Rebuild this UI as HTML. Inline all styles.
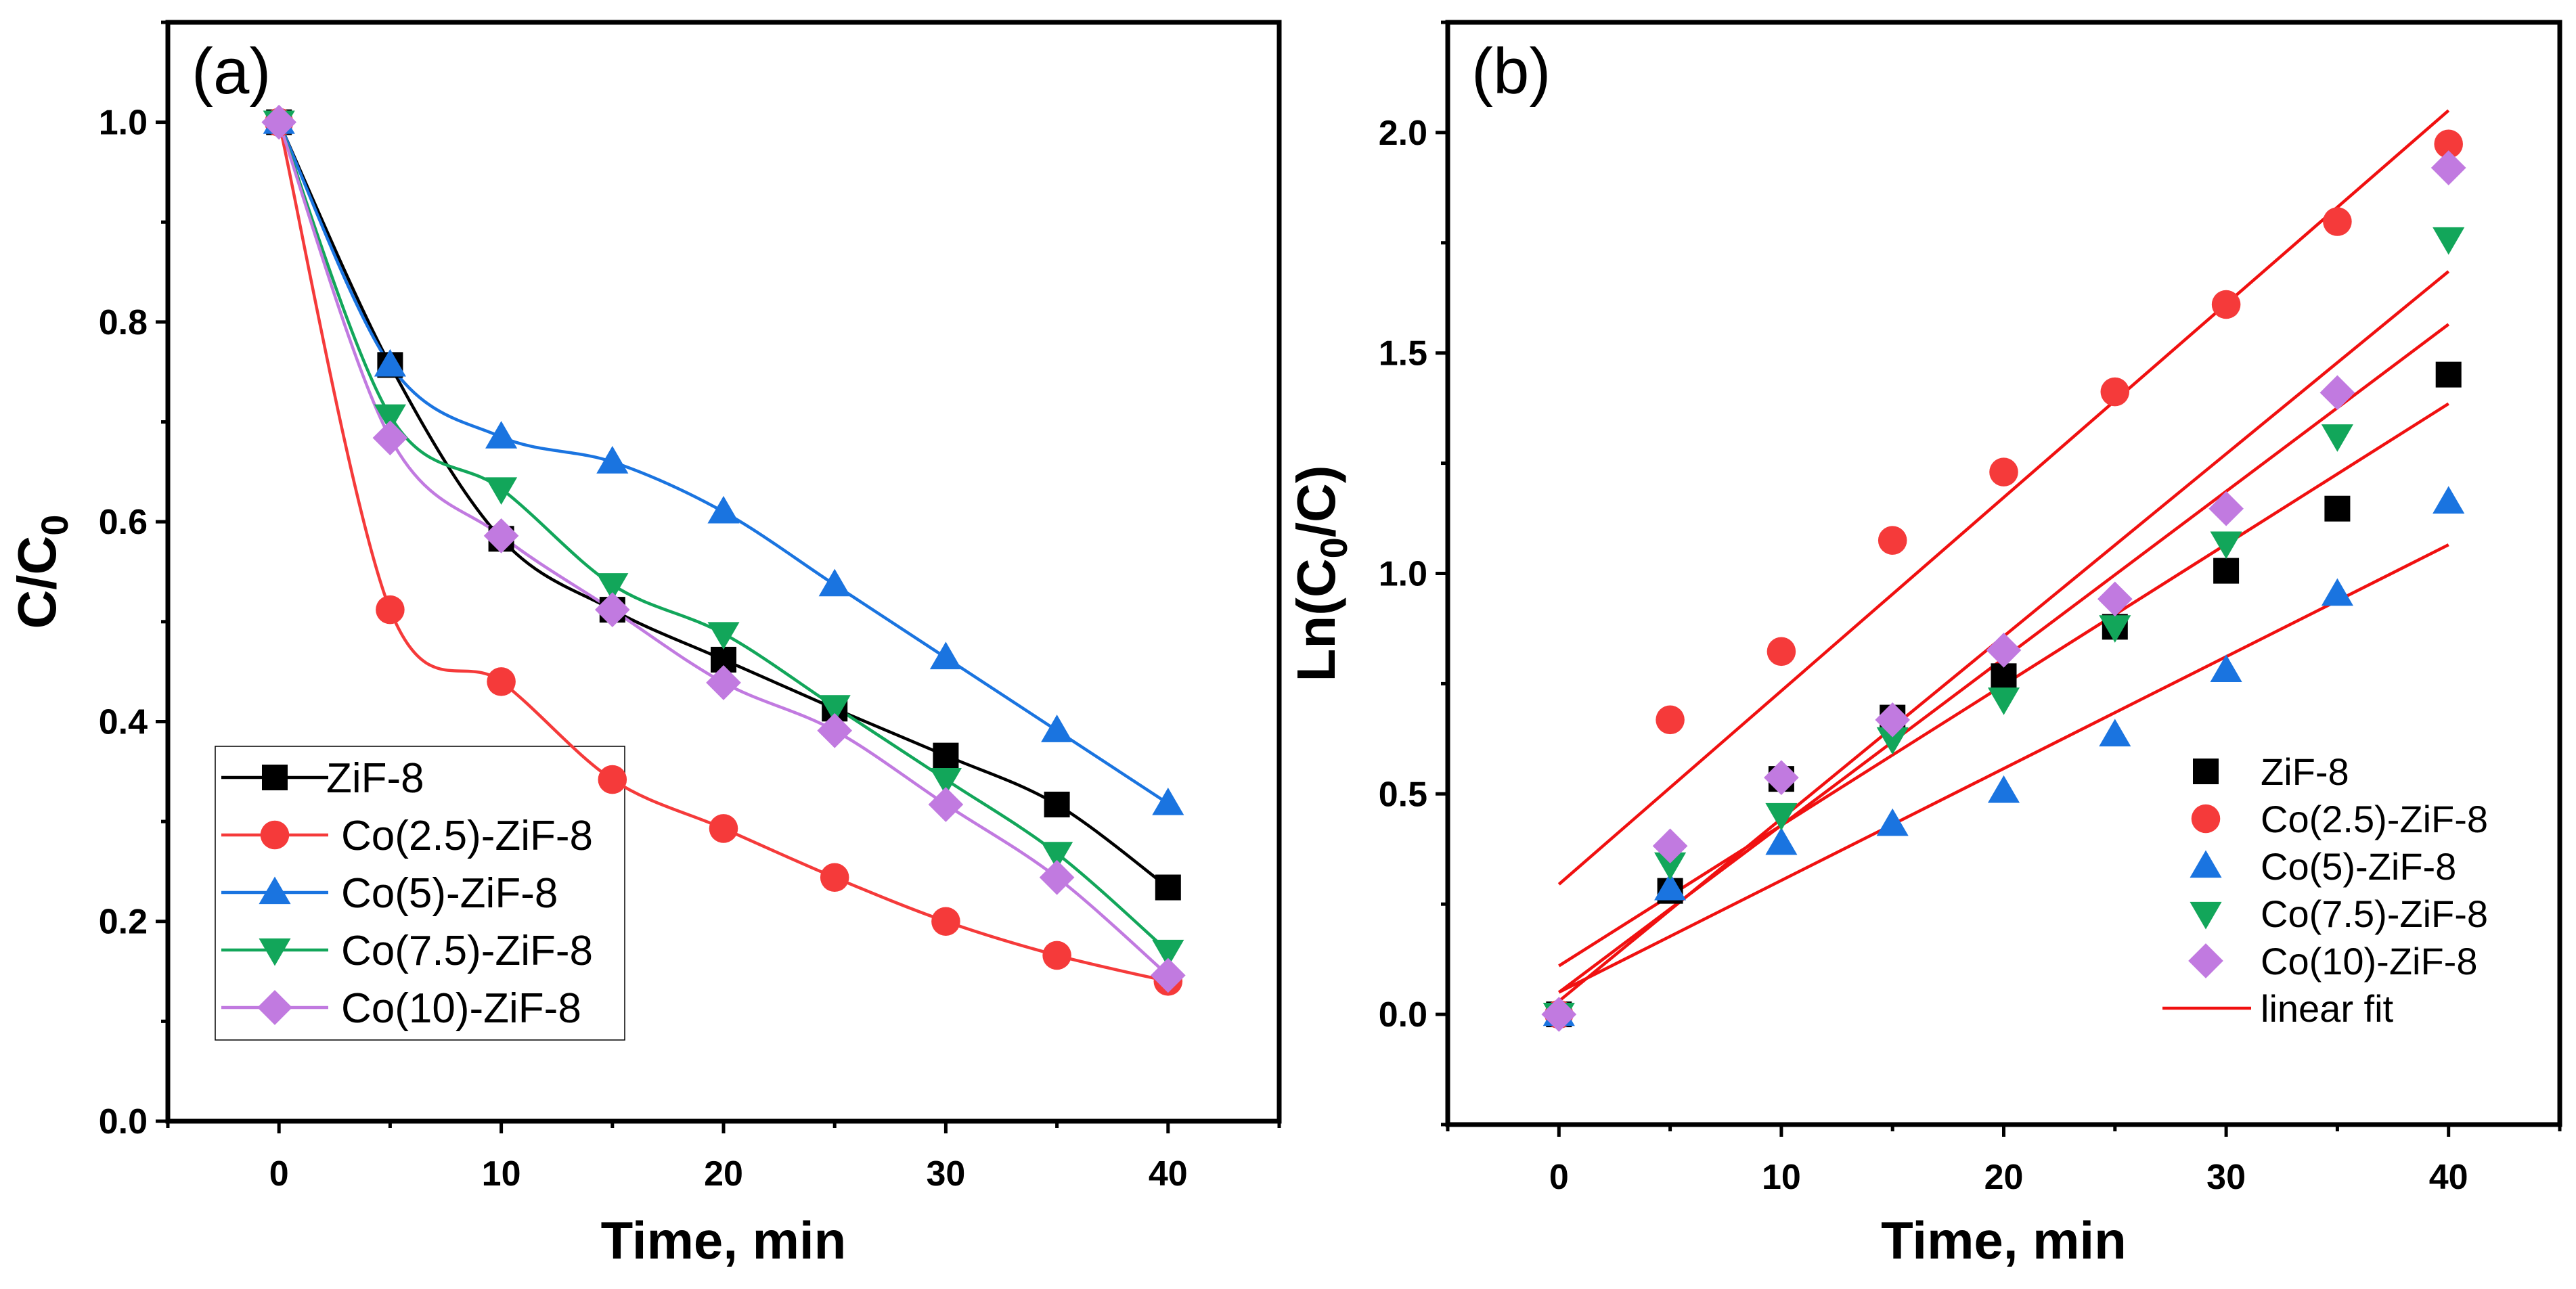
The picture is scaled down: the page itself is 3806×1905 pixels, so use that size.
<!DOCTYPE html>
<html><head><meta charset="utf-8"><style>
html,body{margin:0;padding:0;background:#fff}
svg{display:block;font-family:"Liberation Sans",Arial,sans-serif}
</style></head><body>
<svg id="fig" width="3806" height="1905" viewBox="0 0 3806 1905"></svg>
<script>
const times=[0,5,10,15,20,25,30,35,40];
const seriesNames=["ZiF-8","Co(2.5)-ZiF-8","Co(5)-ZiF-8","Co(7.5)-ZiF-8","Co(10)-ZiF-8"];
const colors=["#000000","#f53a3a","#1a74e0","#12a65a","#c17ae0"];
const markers=["square","circle","up","down","diamond"];
const ratioZif=[1,0.757,0.583,0.512,0.462,0.413,0.366,0.317,0.234];
const ratioCo25=[1,0.512,0.440,0.342,0.293,0.244,0.200,0.166,0.140];
const ratioCo5=[1,0.757,0.685,0.660,0.610,0.537,0.464,0.391,0.318];
const ratioCo75=[1,0.706,0.633,0.537,0.488,0.415,0.342,0.268,0.170];
const ratioCo10=[1,0.684,0.586,0.512,0.439,0.391,0.317,0.244,0.146];
const lnZif=[0,0.28,0.534,0.673,0.767,0.879,1.006,1.147,1.451];
const lnCo25=[0,0.668,0.823,1.075,1.230,1.412,1.610,1.798,1.974];
const lnCo5=[0,0.285,0.388,0.431,0.506,0.634,0.780,0.953,1.162];
const lnCo75=[0,0.341,0.453,0.625,0.715,0.879,1.069,1.312,1.759];
const lnCo10=[0,0.382,0.537,0.668,0.826,0.942,1.147,1.410,1.920];
const fitIntercepts=[0.11,0.295,0.05,0.05,0.03];
const fitEnds=[1.385,2.05,1.065,1.565,1.685];
const xTicksA=[0,10,20,30,40];
const yTicksA=["0.0","0.2","0.4","0.6","0.8","1.0"];
const yTicksB=["0.0","0.5","1.0","1.5","2.0"];

const NS="http://www.w3.org/2000/svg";
const svg=document.getElementById('fig');
function el(tag,attrs,parent,text){const e=document.createElementNS(NS,tag);for(const k in attrs)e.setAttribute(k,attrs[k]);if(text!==undefined)e.textContent=text;(parent||svg).appendChild(e);return e;}

function marker(g,type,cx,cy,s,color){
  let m;
  if(type==="square")m=el('rect',{x:cx-s/2,y:cy-s/2,width:s,height:s,fill:color},g);
  else if(type==="circle")m=el('circle',{cx:cx,cy:cy,r:s*0.56,fill:color},g);
  else if(type==="up")m=el('polygon',{points:`${cx},${cy-s*0.62} ${cx-s*0.62},${cy+s*0.45} ${cx+s*0.62},${cy+s*0.45}`,fill:color},g);
  else if(type==="down")m=el('polygon',{points:`${cx},${cy+s*0.62} ${cx-s*0.62},${cy-s*0.45} ${cx+s*0.62},${cy-s*0.45}`,fill:color},g);
  else m=el('polygon',{points:`${cx},${cy-s*0.68} ${cx+s*0.68},${cy} ${cx},${cy+s*0.68} ${cx-s*0.68},${cy}`,fill:color},g);
  return m;
}
function spline(pts){
  let d=`M${pts[0][0]},${pts[0][1]}`;
  for(let i=0;i<pts.length-1;i++){
    const p0=pts[Math.max(0,i-1)],p1=pts[i],p2=pts[i+1],p3=pts[Math.min(pts.length-1,i+2)];
    const c1=[p1[0]+(p2[0]-p0[0])/6,p1[1]+(p2[1]-p0[1])/6];
    const c2=[p2[0]-(p3[0]-p1[0])/6,p2[1]-(p3[1]-p1[1])/6];
    d+=` C${c1[0]},${c1[1]} ${c2[0]},${c2[1]} ${p2[0]},${p2[1]}`;
  }
  return d;
}

function panel(cfg){
  const g=el('g',{});
  
  
  const X=v=>cfg.L+(v-cfg.xmin)/(cfg.xmax-cfg.xmin)*(cfg.R-cfg.L);
  const Y=v=>cfg.B-(v-cfg.ymin)/(cfg.ymax-cfg.ymin)*(cfg.B-cfg.T);
  for(let v=-5;v<=45;v+=5){
    const major=v%10===0&&v>=0&&v<=40;
    const t=el('line',{x1:X(v),x2:X(v),y1:cfg.B,y2:cfg.B+(major?18:10),stroke:'#000','stroke-width':5},g);
    
  }
  xTicksA.forEach(v=>{
    const t=el('text',{x:X(v),y:cfg.B+95,'font-size':52,'font-weight':'bold','text-anchor':'middle'},g,String(v));
    
  });
  for(let v=cfg.ymin;v<=cfg.ymax+1e-9;v+=cfg.minor){
    const vv=Math.round(v*1000)/1000;
    const major=cfg.yLabels.includes(vv.toFixed(1))&&Math.abs(vv/cfg.major-Math.round(vv/cfg.major))<1e-6;
    const t=el('line',{x1:cfg.L-(major?18:10),x2:cfg.L,y1:Y(vv),y2:Y(vv),stroke:'#000','stroke-width':5},g);
    
  }
  cfg.yLabels.forEach(s=>{
    const t=el('text',{x:cfg.L-30,y:Y(parseFloat(s))+18,'font-size':52,'font-weight':'bold','text-anchor':'end'},g,s);
    
  });
  const fr=el('rect',{x:cfg.L,y:cfg.T,width:cfg.R-cfg.L,height:cfg.B-cfg.T,fill:'none',stroke:'#000','stroke-width':7},g);
  
  const xt=el('text',{x:(cfg.L+cfg.R)/2,y:1860,'font-size':78,'font-weight':'bold','text-anchor':'middle'},g,'Time, min');
  
  const yt=el('text',{transform:`translate(${cfg.ytx},${(cfg.T+cfg.B)/2}) rotate(-90)`,'font-size':80,'font-weight':'bold','text-anchor':'middle'},g);
  
  yt.innerHTML=cfg.ytitle;
  const pl=el('text',{x:cfg.L+35,y:cfg.T+105,'font-size':96},g,cfg.label);
  
  return {g,X,Y};
}

// Panel A
const A=panel({name:'panel-a',L:248,R:1890,T:33,B:1657,xmin:-5,xmax:45,ymin:0,ymax:1.1,minor:0.1,major:0.2,yLabels:yTicksA,ytx:82,label:'(a)',
  ytitle:'C/C<tspan font-size="56" dy="18">0</tspan>'});
const legA=el('g',{},A.g);

el('rect',{x:318,y:1103,width:605,height:434,fill:'none',stroke:'#000','stroke-width':1.5},legA);
seriesNames.forEach((n,i)=>{
  const y=1149+i*85;
  const le=el('g',{},legA);
  
  el('line',{x1:327,x2:485,y1:y,y2:y,stroke:colors[i],'stroke-width':4.5},le);
  marker(le,markers[i],406,y,38,colors[i]);
  el('text',{x:i===0?482:504,y:y+22,'font-size':62},le,n);
});
const ratios=[ratioZif,ratioCo25,ratioCo5,ratioCo75,ratioCo10];
ratios.forEach((vals,i)=>{
  const pts=times.map((t,j)=>[A.X(t),A.Y(vals[j])]);
  const p=el('path',{d:spline(pts),fill:'none',stroke:colors[i],'stroke-width':4.5},A.g);
  
});
ratios.forEach((vals,i)=>{
  times.forEach((t,j)=>{
    const m=marker(A.g,markers[i],A.X(t),A.Y(vals[j]),38,colors[i]);
    
  });
});

// Panel B
const B=panel({name:'panel-b',L:2139,R:3782,T:33,B:1662,xmin:-5,xmax:45,ymin:-0.25,ymax:2.25,minor:0.25,major:0.5,yLabels:yTicksB,ytx:1972,label:'(b)',
  ytitle:'Ln(C<tspan font-size="56" dy="18">0</tspan><tspan dy="-18">/C)</tspan>'});
const lns=[lnZif,lnCo25,lnCo5,lnCo75,lnCo10];
fitIntercepts.forEach((b,i)=>{
  const l=el('line',{x1:B.X(0),y1:B.Y(b),x2:B.X(40),y2:B.Y(fitEnds[i]),stroke:'#f01010','stroke-width':4.5},B.g);
  
});
lns.forEach((vals,i)=>{
  times.forEach((t,j)=>{
    const m=marker(B.g,markers[i],B.X(t),B.Y(vals[j]),38,colors[i]);
    
  });
});
const legB=el('g',{},B.g);

seriesNames.forEach((n,i)=>{
  const y=1140+i*70;
  const le=el('g',{},legB);
  
  marker(le,markers[i],3259,y,38,colors[i]);
  el('text',{x:3340,y:y+20,'font-size':56},le,n);
});
const lf=el('g',{},legB);

el('line',{x1:3195,x2:3326,y1:1490,y2:1490,stroke:'#f01010','stroke-width':4.5},lf);
el('text',{x:3340,y:1510,'font-size':56},lf,'linear fit');
</script>
</body></html>
